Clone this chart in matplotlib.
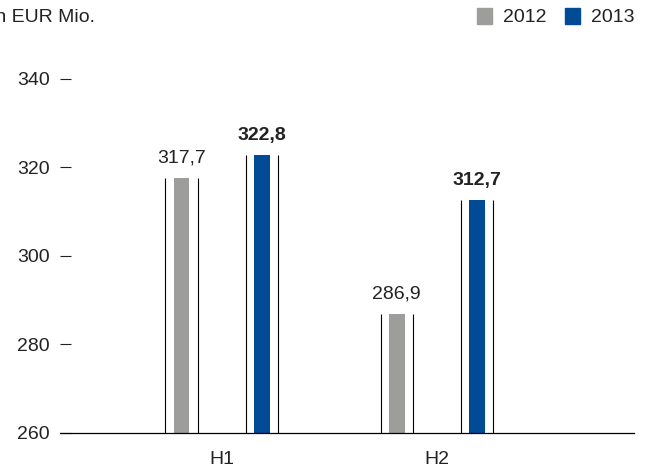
import matplotlib.pyplot as plt
import numpy as np

plt.rcParams['font.family'] = ['Liberation Sans', 'DejaVu Sans']

# Umsatz je Halbjahr
halbjahre = ['H1', 'H2']
jahre = ['2012', '2013']
werte_2012 = [317.7, 286.9]
werte_2013 = [322.8, 312.7]
y_ticks = [260, 280, 300, 320, 340]

grau = '#9d9d9c'
blau = '#004a96'
txt = '#222222'
fs = 14

fig = plt.figure(figsize=(6.5, 4.68), dpi=100)
ax = fig.add_axes([60 / 650, 1 - 433 / 468, 574 / 650, 354 / 468])

x = np.arange(len(halbjahre))
versatz = 0.188
breite_fill = 0.074
breite_rahmen = 0.149

for werte, farbe, dx, fett in [(werte_2012, grau, -versatz, False),
                               (werte_2013, blau, versatz, True)]:
    pos = x + dx
    ax.bar(pos, np.array(werte) - 260, bottom=260, width=breite_fill,
           color=farbe, zorder=2)
    ax.vlines(pos - breite_rahmen / 2, 260, werte, color='black', lw=0.8, zorder=3)
    ax.vlines(pos + breite_rahmen / 2, 260, werte, color='black', lw=0.8, zorder=3)
    for p, w in zip(pos, werte):
        ax.annotate(f'{w:.1f}'.replace('.', ','), (p, w), xytext=(0, 8),
                    textcoords='offset points', ha='center', va='bottom',
                    fontsize=fs, color=txt,
                    fontweight='bold' if fett else 'normal')

ax.set_xlim(-0.753, 1.916)
ax.set_ylim(260, 340)
ax.set_yticks(y_ticks)
ax.set_yticklabels([str(v) for v in y_ticks], fontsize=fs, color=txt)
ax.tick_params(axis='y', direction='in', length=8, width=0.8, pad=7.5,
               color=txt)
ax.set_xticks(x)
ax.set_xticklabels(halbjahre, fontsize=fs, color=txt)
ax.tick_params(axis='x', length=0, pad=13)

for s in ['top', 'right', 'left']:
    ax.spines[s].set_visible(False)
ax.spines['bottom'].set_linewidth(0.9)
ax.spines['bottom'].set_color('black')

fig.text(-0.014, 1 - 18 / 468, 'in EUR Mio.', fontsize=fs, color=txt,
         ha='left', va='center')

# Legende oben rechts
for farbe, label, x0 in [(grau, jahre[0], 477), (blau, jahre[1], 565)]:
    fig.patches.append(plt.Rectangle((x0 / 650, 1 - 24 / 468), 15 / 650, 16 / 468,
                                     transform=fig.transFigure, color=farbe,
                                     figure=fig))
    fig.text((x0 + 26) / 650, 1 - 17 / 468, label, fontsize=fs, color=txt,
             ha='left', va='center')

fig.savefig('out.png', dpi=100)
